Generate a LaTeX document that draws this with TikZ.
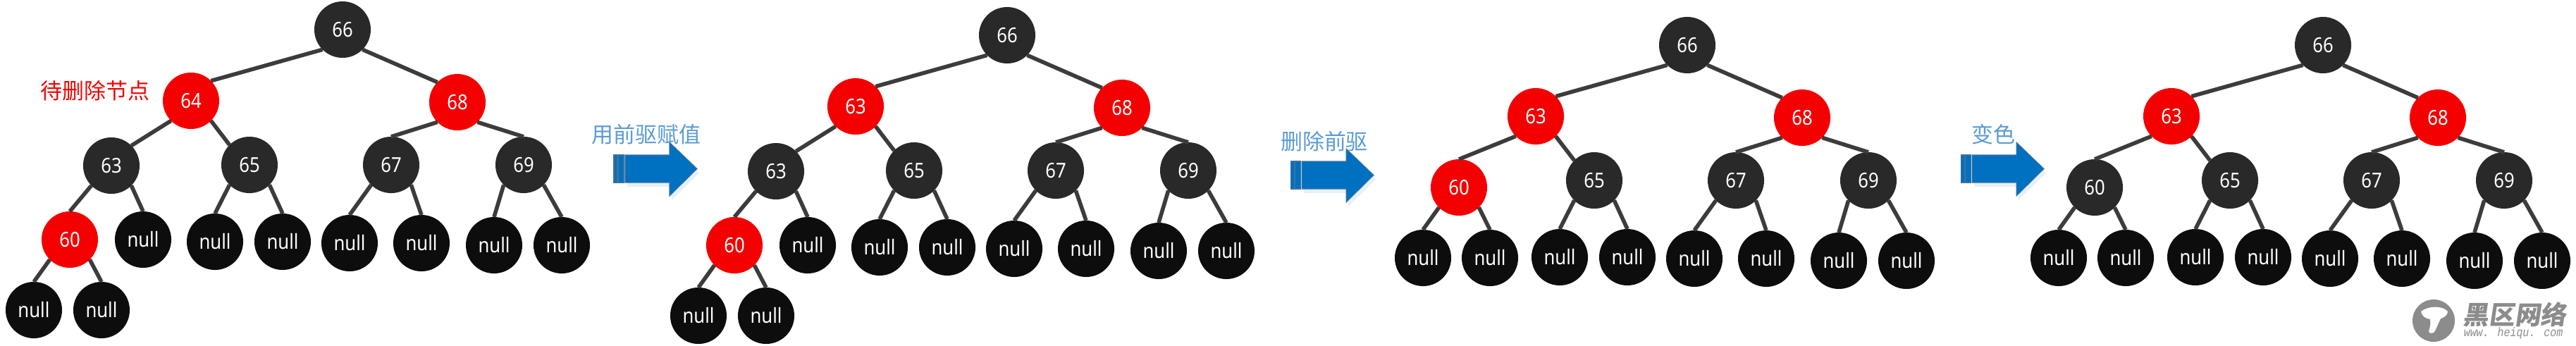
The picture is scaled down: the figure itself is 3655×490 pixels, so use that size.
\documentclass[tikz,border=0pt]{standalone}
\usepackage{fontspec}
\usetikzlibrary{shadows}
\setmainfont[FakeStretch=0.88]{Noto Sans}
\newfontfamily\cjk{Noto Sans CJK SC}
\newfontfamily\cjkslant[FakeSlant=0.15]{Noto Sans CJK SC}
\newfontfamily\wmfont[FakeStretch=0.85]{Liberation Mono}
\definecolor{NodeRed}{HTML}{F50000}
\definecolor{NodeDark}{HTML}{292929}
\definecolor{NodeNull}{HTML}{0D0D0D}
\definecolor{EdgeGrey}{HTML}{3C3C3C}
\definecolor{StepBlue}{HTML}{5B9BD5}
\definecolor{ArrowBlue}{HTML}{0070C0}
\definecolor{ArrowEdge}{HTML}{41719C}
\definecolor{MarkGrey}{HTML}{8C8C8C}
\tikzset{
  treenode/.style={circle,minimum size=0.8cm,inner sep=0pt,outer sep=0pt,text=white,font=\fontsize{8.3}{10}\selectfont},
  rednode/.style={treenode,fill=NodeRed},
  darknode/.style={treenode,fill=NodeDark},
  nullnode/.style={treenode,fill=NodeNull},
  treeedge/.style={draw=EdgeGrey,line width=1.6pt},
  steplabel/.style={text=StepBlue,inner sep=0pt,font=\cjk\fontsize{8.8}{10}\selectfont},
}
\newcommand{\nullpair}[5]{%
  \node[nullnode] (#2l) at (#3,#5) {null};
  \node[nullnode] (#2r) at (#4,#5) {null};
  \draw[treeedge] (#1.south west) -- (#2l.north);
  \draw[treeedge] (#1.south east) -- (#2r.north);
}
\newcommand{\sharedtree}[1]{%
  \node[darknode] (n66) at (486,42) {66};
  \node[rednode] (nleft) at (271,143) {#1};
  \node[rednode] (n68) at (649,145) {68};
  \node[darknode] (n65) at (354,234) {65};
  \node[darknode] (n67) at (555,234) {67};
  \node[darknode] (n69) at (743,234) {69};
  \draw[treeedge] (n66.south west) -- (nleft.north east);
  \draw[treeedge] (n66.south east) -- (n68.north west);
  \draw[treeedge] (nleft.south east) -- (n65.north west);
  \draw[treeedge] (n68.south west) -- (n67.north);
  \draw[treeedge] (n68.south east) -- (n69.north);
  \nullpair{n65}{a}{305}{401}{343}
  \nullpair{n67}{b}{496}{598}{345}
  \nullpair{n69}{c}{701}{797}{348}
}
\newcommand{\tallside}{%
  \node[darknode] (n63) at (158,235) {63};
  \node[rednode] (n60) at (99,340) {60};
  \node[nullnode] (d) at (203,340) {null};
  \draw[treeedge] (nleft.south west) -- (n63.north east);
  \draw[treeedge] (n63.south west) -- (n60.north);
  \draw[treeedge] (n63.south east) -- (d.north);
  \nullpair{n60}{e}{48}{144}{440}
}
\newcommand{\shortside}[1]{%
  \node[#1] (n60) at (162,244) {60};
  \draw[treeedge] (nleft.south west) -- (n60.north);
  \nullpair{n60}{e}{111}{206}{344}
}
\newcommand{\blockarrow}[2]{%
  \fill[ArrowBlue,draw=ArrowEdge,line width=0.3pt,drop shadow={shadow xshift=0.03cm,shadow yshift=-0.06cm,opacity=0.1,fill=ArrowBlue}]
    (#1+16,#2) -- ++(63,0) -- ++(0,-18) -- ++(39,37.5) -- ++(-39,38.5) -- ++(0,-19) -- ++(-63,0) -- cycle;
  \fill[ArrowBlue,draw=ArrowEdge,line width=0.3pt] (#1,#2) rectangle ++(5,39);
  \fill[ArrowBlue,draw=ArrowEdge,line width=0.3pt] (#1+6.5,#2) rectangle ++(7.5,39);
}

\begin{document}
\begin{tikzpicture}[x=0.01cm,y=-0.01cm]
  \useasboundingbox (0,0) rectangle (3655,490);
  \begin{scope}[name prefix=p-]
    \sharedtree{64}\tallside
  \end{scope}
  \begin{scope}[shift={(943,8)},name prefix=q-]
    \sharedtree{63}\tallside
  \end{scope}
  \begin{scope}[shift={(1908,22)},name prefix=r-]
    \sharedtree{63}\shortside{rednode}
  \end{scope}
  \begin{scope}[shift={(2810,22)},name prefix=s-]
    \sharedtree{63}\shortside{darknode}
  \end{scope}
  \node[steplabel,text=NodeRed] (todelete) at (135,129) {待删除节点};
  \blockarrow{871}{220}\blockarrow{1831}{229}\blockarrow{2782}{220}
  \node[steplabel] (assign) at (917,191) {用前驱赋值};
  \node[steplabel] (remove) at (1879,201) {删除前驱};
  \node[steplabel] (recolor) at (2828,191) {变色};
  % site mark
  \fill[MarkGrey] (3453,455) circle (30);
  \fill[white] (3435,442) .. controls (3445,434) and (3465,433) .. (3473,442)
    .. controls (3473,448) and (3466,451) .. (3463,452) .. controls (3459,460) and (3457,466) .. (3454,471)
    .. controls (3451,474) and (3446,473) .. (3446,470) .. controls (3448,465) and (3449,459) .. (3448,453)
    .. controls (3442,452) and (3436,449) .. (3435,442) -- cycle;
  \node[inner sep=0pt,text=MarkGrey,font=\cjkslant\bfseries\fontsize{10.4}{12}\selectfont] (marktitle) at (3568,446) {黑区网络};
  \node[inner sep=0pt,text=MarkGrey,font=\wmfont\itshape\fontsize{5}{6}\selectfont] (markurl) at (3566,473) {www. heiqu. com};
\end{tikzpicture}
\end{document}
